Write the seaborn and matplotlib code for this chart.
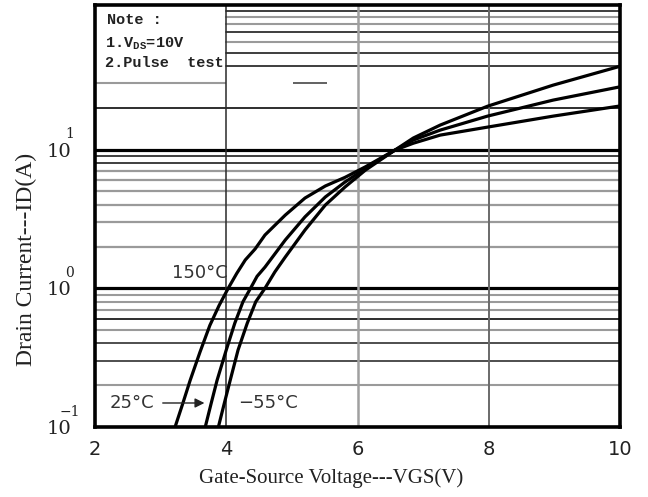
import matplotlib
matplotlib.use("Agg")
import matplotlib.pyplot as plt
import pandas as pd
import seaborn as sns

# Transfer characteristics (VDS = 10 V, pulse test)
vgs_150 = [3.22, 3.33, 3.45, 3.60, 3.75, 3.89, 4.03, 4.16, 4.29, 4.44, 4.59, 4.90, 5.20, 5.51,
           5.81, 6.12, 6.57, 6.85, 7.26, 7.98, 8.98, 10.0]
id_150 = [0.10, 0.144, 0.217, 0.347, 0.54, 0.75, 1.0, 1.28, 1.6, 1.92, 2.42, 3.37, 4.47, 5.46,
          6.3, 7.5, 9.9, 11.1, 12.7, 14.5, 17.4, 20.6]
vgs_25 = [3.68, 3.77, 3.86, 4.00, 4.13, 4.255, 4.37, 4.47, 4.59, 4.90, 5.20, 5.51, 5.81, 6.12,
          6.57, 6.85, 7.26, 7.98, 8.98, 10.0]
id_25 = [0.10, 0.148, 0.217, 0.359, 0.56, 0.80, 1.0, 1.22, 1.42, 2.23, 3.27, 4.55, 5.83, 7.3,
         9.9, 11.7, 13.8, 17.4, 22.7, 28.3]
vgs_m55 = [3.88, 3.97, 4.06, 4.18, 4.32, 4.45, 4.59, 4.74, 4.90, 5.20, 5.51, 5.81, 6.12, 6.57,
           6.85, 7.26, 7.98, 8.98, 10.0]
id_m55 = [0.10, 0.148, 0.217, 0.359, 0.56, 0.80, 1.0, 1.31, 1.68, 2.63, 3.98, 5.37, 7.1, 9.9,
          12.1, 15.0, 20.5, 29.1, 39.8]
temperatures = ["150°C", "25°C", "−55°C"]

x_ticks = [2, 4, 6, 8, 10]
y_ticks = [0.1, 1, 10]
y_exponents = ["−1", "0", "1"]

frames = []
for temp, v, i in zip(temperatures, [vgs_150, vgs_25, vgs_m55], [id_150, id_25, id_m55]):
    frames.append(pd.DataFrame({"VGS": v, "ID": i, "Tj": temp}))
df = pd.concat(frames, ignore_index=True)

sns.set_style("white")
plt.rcParams["font.family"] = ["DejaVu Sans"]

fig = plt.figure(figsize=(6.48, 4.97), dpi=100)
ax = fig.add_axes([0.1466, 0.1408, 0.8102, 0.8491])
ax.set_yscale("log")
ax.set_xlim(2, 10)
ax.set_ylim(0.1, 110)

# horizontal log grid: (level, colour, width, starts at VGS=4 because of the note box)
GRAY, DARK = "#9a9a9a", "#1e1e1e"
grid_rows = [
    (0.2, GRAY, 1.5, False), (0.3, DARK, 1.1, False), (0.4, DARK, 1.1, False),
    (0.5, GRAY, 1.5, False), (0.6, DARK, 1.3, False), (0.7, GRAY, 1.5, False),
    (0.8, GRAY, 1.5, False), (0.9, GRAY, 1.5, False),
    (2, GRAY, 1.6, False), (3, GRAY, 1.6, False), (4, GRAY, 1.6, False),
    (5, GRAY, 1.6, False), (6, GRAY, 1.6, False), (7, GRAY, 1.6, False),
    (8, DARK, 1.2, False), (9, DARK, 1.2, False),
    (20, DARK, 1.3, False), (40, DARK, 1.2, True), (50, DARK, 1.2, True),
    (60, GRAY, 1.5, True), (70, DARK, 1.2, True), (80, GRAY, 1.5, True),
    (90, GRAY, 1.5, True), (100, DARK, 1.2, True),
]
for level, col, lw, short in grid_rows:
    ax.axhline(level, xmin=0.25 if short else 0.0, color=col, lw=lw, zorder=1)
for level in [1, 10]:
    ax.axhline(level, color="black", lw=2.3, zorder=1)

# bottom edge of the note box and a stray tick mark
ax.hlines(30, 2, 4, color=GRAY, lw=1.5, zorder=1)
ax.hlines(30, 5.02, 5.54, color="#555555", lw=1.3, zorder=1)

for xv, col, lw in [(4, "#2a2a2a", 1.1), (6, "#a0a0a0", 1.8), (8, "#6a6a6a", 1.4)]:
    ax.axvline(xv, color=col, lw=lw, zorder=1)

sns.lineplot(data=df, x="VGS", y="ID", hue="Tj", palette=["black"] * 3,
             estimator=None, sort=False, legend=False, lw=2.3, ax=ax, zorder=3)
for ln in ax.get_lines()[-3:]:
    ln.set_solid_joinstyle("round")
    ln.set_solid_capstyle("round")

for s in ax.spines.values():
    s.set_visible(True)
    s.set_color("black")
    s.set_linewidth(2.6)
    s.set_zorder(4)

ax.set_xticks(x_ticks)
ax.set_xticklabels([str(t) for t in x_ticks], fontsize=14, family="DejaVu Sans", color="#222222")
ax.set_yticks(y_ticks)
ax.set_yticks([], minor=True)
ax.set_yticklabels(["10"] * len(y_ticks), fontsize=14, family="DejaVu Serif", color="#222222")
ax.tick_params(axis="x", length=0, pad=9)
ax.tick_params(axis="y", length=0, pad=17)
ax.tick_params(axis="y", which="minor", length=0)
ax.set_xlabel("")
ax.set_ylabel("")

ytrans = ax.get_yaxis_transform()
for yv, ex in zip(y_ticks, y_exponents):
    ax.annotate(ex, xy=(-0.048, yv), xycoords=ytrans, xytext=(0, 11),
                textcoords="offset points", ha="center", va="center",
                fontsize=10, family="DejaVu Serif", color="#222222")

# note
note_font = dict(family="Liberation Mono", weight="bold", fontsize=11, color="#222222")
ax.text(2.18, 85.7, "Note :", ha="left", va="center", **note_font)
ax.text(2.15, 57.6, "1.V$_\\mathregular{DS}$=10V", ha="left", va="center", **note_font)
ax.text(2.15, 42.0, "2.Pulse  test", ha="left", va="center", **note_font)

# curve labels
lab_font = dict(family="DejaVu Sans", fontsize=13, color="#333333")
ax.text(4.03, 1.29, temperatures[0], ha="right", va="center", **lab_font)
ax.text(2.23, 0.149, temperatures[1], ha="left", va="center", **lab_font)
ax.text(4.18, 0.149, temperatures[2], ha="left", va="center", **lab_font)
ax.annotate("", xy=(3.71, 0.149), xytext=(2.99, 0.149),
            arrowprops=dict(arrowstyle="-|>", color="#222222", lw=1.0, mutation_scale=14))

fig.text(0.511, 0.038, "Gate-Source Voltage---VGS(V)", ha="center", va="center",
         family="Liberation Serif", fontsize=15, color="#222222")
fig.text(0.041, 0.477, "Drain Current---ID(A)", ha="center", va="center", rotation=90,
         family="Liberation Serif", fontsize=17, color="#222222")

fig.savefig("out.png", dpi=100)
